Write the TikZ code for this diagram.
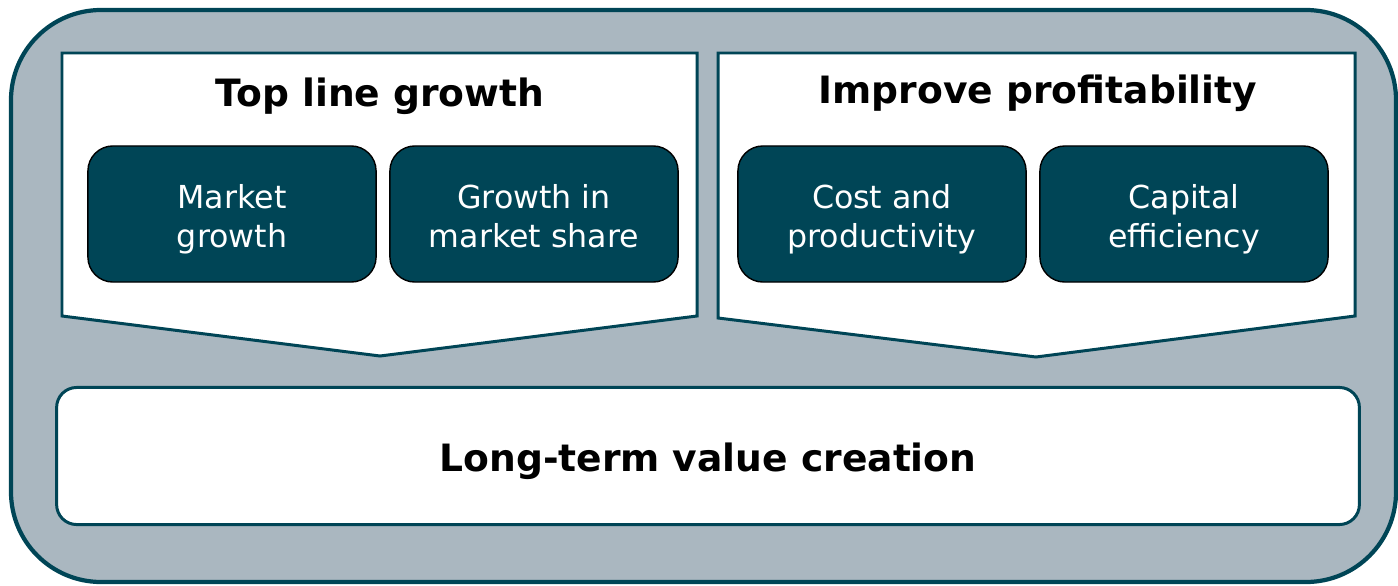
\documentclass[tikz,border=0pt]{standalone}
\usepackage{fontspec}
\setmainfont{DejaVu Sans}
\definecolor{teal}{RGB}{0,69,86}
\definecolor{slate}{RGB}{170,183,192}
\begin{document}
\begin{tikzpicture}[x=0.01cm,y=-0.01cm,
  frame/.style={draw=teal,line width=1.2pt,fill=slate,rounded corners=0.9cm},
  panel/.style={draw=teal,line width=0.85pt,fill=white,line join=miter},
  title/.style={font=\bfseries\fontsize{10.7}{12.8}\selectfont,text=black},
  lever/.style={draw=black,line width=0.4pt,fill=teal,rounded corners=0.25cm,
    minimum width=2.88cm,minimum height=1.36cm,inner sep=0pt},
  levertext/.style={text=white,font=\fontsize{9}{11.1}\selectfont,anchor=base},
  base/.style={draw=teal,line width=0.85pt,fill=white,rounded corners=0.2cm,
    minimum width=13.02cm,minimum height=1.37cm}]
\useasboundingbox (0,0) rectangle (1398,585);
% outer frame
\path[frame] (11,10) rectangle (1396,582);
% chevron panels
\path[panel] (62,53) -- (697,53) -- (697,316) -- (380,356) -- (62,316) -- cycle;
\path[panel] (718,53) -- (1355,53) -- (1355,316) -- (1036,357) -- (718,318) -- cycle;
\node[title] (tl) at (380,96) {Top line growth};
\node[title] (ip) at (1038,93) {Improve profitability};
% levers
\node[lever] (mg) at (232,214) {};
\node[lever] (gm) at (534,214) {};
\node[lever] (cp) at (882,214) {};
\node[lever] (ce) at (1184,214) {};
\foreach \n/\a/\b in {mg/Market/growth, gm/Growth in/market share,
    cp/Cost and/productivity, ce/Capital/efficiency}{
  \node[levertext] (\n-1) at ([yshift=0.05cm]\n.center) {\a};
  \node[levertext] (\n-2) at ([yshift=-0.335cm]\n.center) {\b};
}
% outcome
\node[base] (lt) at (708,456) {};
\node[title] (ltt) at (708,461) {Long-term value creation};
\end{tikzpicture}
\end{document}
